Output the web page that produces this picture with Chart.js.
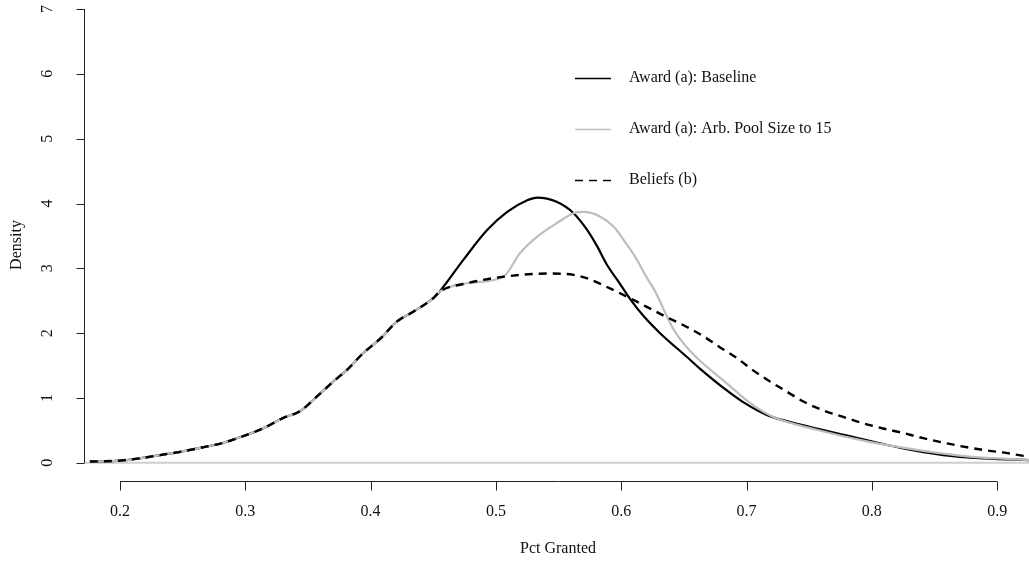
<!DOCTYPE html>
<html>
<head>
<meta charset="utf-8">
<title>Pct Granted density</title>
<script src="https://cdn.jsdelivr.net/npm/chart.js@4/dist/chart.umd.min.js"></script>
<style>
  html, body { margin: 0; padding: 0; background: #fff; }
  #wrap { width: 1029px; height: 562px; position: relative; }
</style>
</head>
<body>
<div id="wrap"><canvas id="densityChart" width="1029" height="562"></canvas></div>
<script>
// Density curves (x = pct granted, y = density)
const baselineX = [0.176, 0.2, 0.216, 0.232, 0.248, 0.264, 0.2825, 0.298, 0.314, 0.330, 0.344, 0.357, 0.370, 0.381, 0.394, 0.408, 0.421, 0.434, 0.450, 0.455,
  0.474, 0.493, 0.509, 0.525, 0.533, 0.548, 0.562, 0.5725, 0.5805, 0.5885, 0.599, 0.607, 0.618, 0.631, 0.652, 0.663, 0.684, 0.697, 0.716, 0.743, 0.783, 0.823, 0.857, 0.889, 0.93];
const baselineY = [0.02, 0.035, 0.07, 0.12, 0.17, 0.23, 0.31, 0.41, 0.53, 0.69, 0.80, 1.02, 1.25, 1.43, 1.69, 1.92, 2.18, 2.33, 2.54, 2.64,
  3.13, 3.59, 3.87, 4.05, 4.09, 4.03, 3.85, 3.60, 3.35, 3.06, 2.76, 2.53, 2.26, 2.00, 1.64, 1.45, 1.12, 0.94, 0.74, 0.59, 0.41, 0.23, 0.12, 0.07, 0.04];

const poolX = [0.176, 0.2, 0.216, 0.232, 0.248, 0.264, 0.2825, 0.298, 0.314, 0.330, 0.344, 0.357, 0.370, 0.381, 0.394, 0.408, 0.421, 0.434, 0.450, 0.455,
  0.477, 0.506, 0.519, 0.533, 0.548, 0.562, 0.570, 0.583, 0.594, 0.604, 0.612, 0.620, 0.628, 0.634, 0.642, 0.652, 0.662, 0.684, 0.703, 0.721, 0.756, 0.796, 0.836, 0.876, 0.93];
const poolY = [0.02, 0.035, 0.07, 0.12, 0.17, 0.23, 0.31, 0.41, 0.53, 0.69, 0.80, 1.02, 1.25, 1.43, 1.69, 1.92, 2.18, 2.33, 2.54, 2.64,
  2.77, 2.87, 3.23, 3.49, 3.69, 3.85, 3.87, 3.80, 3.64, 3.38, 3.15, 2.87, 2.61, 2.36, 2.05, 1.79, 1.59, 1.23, 0.92, 0.71, 0.51, 0.33, 0.20, 0.10, 0.04];

const beliefsX = [0.176, 0.2, 0.216, 0.232, 0.248, 0.264, 0.2825, 0.298, 0.314, 0.330, 0.344, 0.357, 0.370, 0.381, 0.394, 0.408, 0.421, 0.434, 0.450, 0.455,
  0.477, 0.506, 0.541, 0.562, 0.575, 0.591, 0.607, 0.620, 0.636, 0.652, 0.665, 0.679, 0.692, 0.705, 0.719, 0.732, 0.745, 0.761, 0.777, 0.793, 0.809, 0.825, 0.841, 0.860, 0.876, 0.892, 0.908, 0.924, 0.93];
const beliefsY = [0.02, 0.035, 0.07, 0.12, 0.17, 0.23, 0.31, 0.41, 0.53, 0.69, 0.80, 1.02, 1.25, 1.43, 1.69, 1.92, 2.18, 2.33, 2.54, 2.64,
  2.77, 2.87, 2.92, 2.90, 2.83, 2.69, 2.54, 2.41, 2.25, 2.10, 1.96, 1.78, 1.62, 1.43, 1.25, 1.10, 0.95, 0.81, 0.71, 0.61, 0.53, 0.46, 0.38, 0.30, 0.24, 0.19, 0.15, 0.10, 0.09];

const seriesLabels = ['Award (a): Baseline', 'Award (a): Arb. Pool Size to 15', 'Beliefs (b)'];
const xTicks = [0.2, 0.3, 0.4, 0.5, 0.6, 0.7, 0.8, 0.9];
const yTicks = [0, 1, 2, 3, 4, 5, 6, 7];
const xTitle = 'Pct Granted';
const yTitle = 'Density';

const FONT = '16px "Liberation Serif", "DejaVu Serif", serif';

function toPoints(xs, ys) {
  return xs.map((x, i) => ({ x: x, y: ys[i] }));
}

// R-style axes, zero line and legend drawn from the chart's own scales
const rStylePlugin = {
  id: 'rStyle',
  beforeDatasetsDraw(chart) {
    const { ctx, chartArea, scales } = chart;
    const y0 = scales.y.getPixelForValue(0);
    ctx.save();
    ctx.strokeStyle = '#cfcfcf';
    ctx.lineWidth = 2;
    ctx.beginPath();
    ctx.moveTo(chartArea.left, y0);
    ctx.lineTo(chartArea.right, y0);
    ctx.stroke();
    ctx.restore();
  },
  afterDraw(chart) {
    const { ctx, chartArea, scales } = chart;
    const xs = scales.x;
    const ys = scales.y;
    ctx.save();
    ctx.strokeStyle = '#222';
    ctx.fillStyle = '#111';
    ctx.lineWidth = 1;
    ctx.font = FONT;

    // x axis
    const axY = chartArea.bottom + 0.5;
    ctx.beginPath();
    ctx.moveTo(xs.getPixelForValue(xTicks[0]), axY);
    ctx.lineTo(xs.getPixelForValue(xTicks[xTicks.length - 1]), axY);
    xTicks.forEach(t => {
      const px = Math.round(xs.getPixelForValue(t)) + 0.5;
      ctx.moveTo(px, axY);
      ctx.lineTo(px, axY + 9);
    });
    ctx.stroke();
    ctx.textAlign = 'center';
    ctx.textBaseline = 'middle';
    xTicks.forEach(t => {
      ctx.fillText(t.toFixed(1), xs.getPixelForValue(t), axY + 30);
    });
    ctx.fillText(xTitle, 558, axY + 67);

    // y axis
    const axX = chartArea.left + 0.5;
    ctx.beginPath();
    ctx.moveTo(axX, ys.getPixelForValue(yTicks[0]));
    ctx.lineTo(axX, ys.getPixelForValue(yTicks[yTicks.length - 1]));
    yTicks.forEach(t => {
      const py = Math.round(ys.getPixelForValue(t)) + 0.5;
      ctx.moveTo(axX, py);
      ctx.lineTo(axX - 8, py);
    });
    ctx.stroke();
    yTicks.forEach(t => {
      ctx.save();
      ctx.translate(axX - 37, ys.getPixelForValue(t));
      ctx.rotate(-Math.PI / 2);
      ctx.fillText(String(t), 0, 0);
      ctx.restore();
    });
    ctx.save();
    ctx.translate(17, 245);
    ctx.rotate(-Math.PI / 2);
    ctx.fillText(yTitle, 0, 0);
    ctx.restore();

    // legend, no box
    const lx = 575;
    const rows = [78, 129, 180];
    ctx.textAlign = 'left';
    chart.data.datasets.forEach((ds, i) => {
      ctx.save();
      ctx.strokeStyle = ds.borderColor;
      ctx.lineWidth = 1.5;
      ctx.setLineDash(ds.borderDash || []);
      ctx.beginPath();
      ctx.moveTo(lx, rows[i] + 0.5);
      ctx.lineTo(lx + 36, rows[i] + 0.5);
      ctx.stroke();
      ctx.restore();
      ctx.fillText(ds.label, lx + 54, rows[i]);
    });
    ctx.restore();
  }
};

new Chart(document.getElementById('densityChart'), {
  type: 'line',
  data: {
    datasets: [
      {
        label: seriesLabels[0],
        data: toPoints(baselineX, baselineY),
        borderColor: '#000000',
        borderWidth: 2.2,
        order: 3
      },
      {
        label: seriesLabels[1],
        data: toPoints(poolX, poolY),
        borderColor: '#bebebe',
        borderWidth: 2.2,
        order: 2
      },
      {
        label: seriesLabels[2],
        data: toPoints(beliefsX, beliefsY),
        borderColor: '#000000',
        borderWidth: 2.4,
        borderDash: [8, 6],
        order: 1
      }
    ]
  },
  options: {
    responsive: false,
    animation: false,
    events: [],
    layout: { padding: { left: 84, top: 9, right: 0, bottom: 81 } },
    elements: {
      point: { radius: 0 },
      line: { cubicInterpolationMode: 'monotone', fill: false }
    },
    scales: {
      x: { type: 'linear', min: 0.1713, max: 0.9254, display: false },
      y: { type: 'linear', min: -0.28, max: 7, display: false }
    },
    plugins: {
      legend: { display: false },
      tooltip: { enabled: false }
    }
  },
  plugins: [rStylePlugin]
});
</script>
</body>
</html>
